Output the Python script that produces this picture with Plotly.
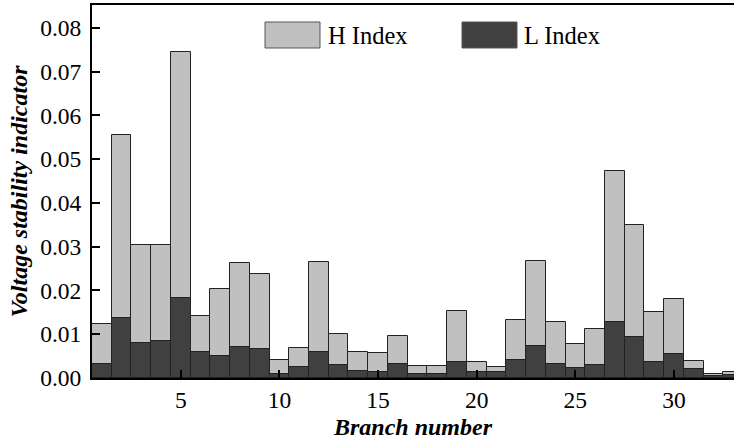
import plotly.graph_objects as go

branches = list(range(1, 34))
h_index = [0.0123, 0.0555, 0.0303, 0.0303, 0.0744, 0.0141, 0.0204, 0.0262, 0.0237, 0.0041,
           0.0068, 0.0264, 0.0101, 0.0059, 0.0057, 0.0096, 0.0027, 0.0027, 0.0154, 0.0037,
           0.0024, 0.0132, 0.0267, 0.0129, 0.0078, 0.0111, 0.0473, 0.0349, 0.0150, 0.0180,
           0.0038, 0.0009, 0.0013]
l_index = [0.0032, 0.0138, 0.0081, 0.0084, 0.0183, 0.0059, 0.0050, 0.0071, 0.0066, 0.0009,
           0.0026, 0.0059, 0.0030, 0.0017, 0.0014, 0.0033, 0.0009, 0.0009, 0.0036, 0.0014,
           0.0014, 0.0041, 0.0072, 0.0032, 0.0023, 0.0029, 0.0129, 0.0093, 0.0036, 0.0055,
           0.0021, 0.0005, 0.0006]
x_ticks = [5, 10, 15, 20, 25, 30]
y_ticks = [0.00, 0.01, 0.02, 0.03, 0.04, 0.05, 0.06, 0.07, 0.08]

H_COLOR = "#c0c0c0"
L_COLOR = "#404040"
EDGE = "#222222"
FONT = "Liberation Serif, Times New Roman, serif"

fig = go.Figure()
fig.add_trace(go.Bar(x=branches, y=h_index, name="H Index", width=1.0,
                     marker=dict(color=H_COLOR, line=dict(color=EDGE, width=1))))
fig.add_trace(go.Bar(x=branches, y=l_index, name="L Index", width=1.0,
                     marker=dict(color=L_COLOR, line=dict(color=EDGE, width=1))))

W, H = 734, 445
ml, mt, mb, mr = 92, 5, 67, 0

fig.update_layout(
    template="none",
    width=W, height=H,
    margin=dict(l=ml, r=mr, t=mt, b=mb),
    barmode="overlay",
    bargap=0,
    showlegend=False,
    plot_bgcolor="white",
    paper_bgcolor="white",
    font=dict(family=FONT, size=23, color="black"),
)
fig.update_xaxes(
    range=[0.5, 33.04], tickvals=x_ticks, ticktext=[str(v) for v in x_ticks],
    ticks="inside", ticklen=8, tickwidth=1.5, tickcolor="black",
    showline=True, linecolor="black", linewidth=2, mirror=True,
    showgrid=False, zeroline=False,
    tickfont=dict(family=FONT, size=23.5, color="black"),
    title=dict(text="<b><i>Branch number</i></b>", font=dict(family=FONT, size=24, color="black"), standoff=6),
)
fig.update_yaxes(
    range=[0, 0.0852], tickvals=y_ticks, ticktext=[f"{v:.2f}" for v in y_ticks],
    ticks="inside", ticklen=8, tickwidth=1.5, tickcolor="black",
    showline=True, linecolor="black", linewidth=2, mirror=False,
    showgrid=False, zeroline=False, ticklabelstandoff=4,
    tickfont=dict(family=FONT, size=23.5, color="black"),
    title=dict(text="<b><i>Voltage stability indicator</i></b>", font=dict(family=FONT, size=24, color="black"), standoff=6),
)

# legend drawn manually (paper coordinates)
pw = W - ml - mr
ph = H - mt - mb
def px(xp):
    return (xp - ml) / pw
def py(yp):
    return (H - mb - yp) / ph

legend_items = [("H Index", H_COLOR, 265, 320, 326), ("L Index", L_COLOR, 462, 517, 522)]
for label, color, x0, x1, tx in legend_items:
    fig.add_shape(type="rect", xref="paper", yref="paper",
                  x0=px(x0), x1=px(x1), y0=py(48), y1=py(22),
                  fillcolor=color, line=dict(color="#555555", width=1))
    fig.add_annotation(xref="paper", yref="paper", x=px(tx), y=py(35),
                       text=label, showarrow=False, xanchor="left", yanchor="middle",
                       font=dict(family=FONT, size=24.5, color="black"))

fig.write_html("out.html")
